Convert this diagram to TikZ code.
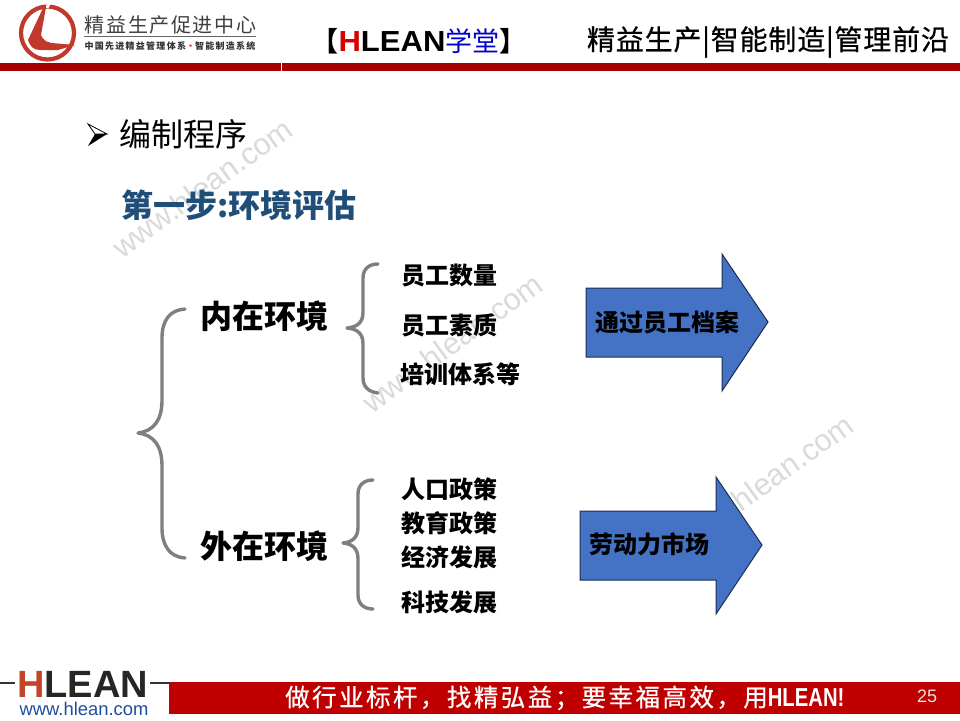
\documentclass[tikz,border=0pt]{standalone}
\usepackage{fontspec}
\setmainfont{Liberation Sans}
\newfontfamily\cjk{Noto Sans CJK SC}
\newfontfamily\cjkfb[FakeBold=0.6]{Noto Sans CJK SC}
\newfontfamily\latin{Liberation Sans}
\newcommand{\fs}[1]{\fontsize{#1}{#1}\selectfont}
\definecolor{barred}{HTML}{A80000}
\definecolor{footred}{HTML}{C00000}
\definecolor{braceg}{HTML}{7F7F7F}
\definecolor{wm}{HTML}{DADADA}
\definecolor{stepblue}{HTML}{1F4E79}
\definecolor{arrowblue}{HTML}{4472C4}
\definecolor{arrowline}{HTML}{1B2F55}
\definecolor{logored}{HTML}{C0392B}
\definecolor{footlogo}{HTML}{C0452A}
\definecolor{urlblue}{HTML}{1F4E9E}
\tikzset{
  x=1pt,y=-1pt,
  wmark/.style={text=wm,rotate=36,font=\latin\fs{30.5}},
  brace/.style={draw=braceg,line width=3.4pt,line cap=round,line join=round},
  bigtext/.style={font=\cjk\bfseries\fs{32},text=black},
  subtext/.style={font=\cjk\bfseries\fs{24},text=black},
  blockarrow/.style={draw=arrowline,line width=1pt,fill=arrowblue,line join=miter},
  inbar/.style={fill=barred,draw=none},
}
\begin{document}
\begin{tikzpicture}
\useasboundingbox (0,0) rectangle (960,720);
\fill[white] (0,0) rectangle (960,720);
% watermarks
\node[wmark] (wm1) at (202,188) {www.hlean.com};
\node[wmark] (wm2) at (452,343) {www.hlean.com};
\node[wmark] (wm3) at (763,484) {www.hlean.com};
% header
\fill[inbar] (0,63) rectangle (281,71);
\fill[inbar] (282,63) rectangle (960,71);
\draw[logored,line width=4.2pt] (47.5,33) circle (26.5);
\draw[white,line width=3pt] (50,1) -- (47,8);
\fill[logored] (44,6) -- (28,40) .. controls (30,46) and (33,50) .. (40,50) -- (58,50) -- (75,45) -- (52,43) .. controls (46,42) and (43,40) .. (41,35) -- (46,7) -- cycle;
\node[text=black!75,font=\cjk\fs{20},inner sep=0pt] (logotitle) at (170.5,25) {\addfontfeature{LetterSpace=8}精益生产促进中心};
\coordinate (ruleL) at (84,36);
\coordinate (ruleR) at (256,36);
\draw[black!60,line width=.7pt] (ruleL) -- (ruleR);
\node[text=black!80,font=\cjk\bfseries\fs{9},inner sep=0pt] (logosub) at (170,46) {\addfontfeature{LetterSpace=14}中国先进精益管理体系{\color{logored}•}智能制造系统};
\node[inner sep=0pt,font=\cjk\bfseries\fs{27}] (brand) at (419,41) {【{\latin\bfseries\fs{29}\addfontfeature{FakeStretch=1.07}\textcolor{red!85!black}{H}LEAN}{\mdseries\color{blue!80!black}学堂}】};
\node[inner sep=0pt,font=\cjkfb\fs{28},text=black] (slogan) at (768,42) {\addfontfeature{LetterSpace=3}精益生产|智能制造|管理前沿};
% heading
\fill[black] (88,146) -- (107,134) -- (95,134) -- cycle;
\draw[black,line width=.8pt] (88,124) -- (107,134) -- (95,134) -- cycle;
\node[inner sep=0pt,font=\cjk\fs{32},text=black] (proc) at (183,134) {编制程序};
\node[inner sep=0pt,font=\cjk\bfseries\fs{32},text=stepblue] (stepone) at (239,205) {第一步:环境评估};
% big labels
\node[bigtext,inner sep=0pt] (inner) at (264,316) {内在环境};
\node[bigtext,inner sep=0pt] (outer) at (264,546) {外在环境};
% sub labels
\node[subtext,inner sep=0pt] (a1) at (449,276) {员工数量};
\node[subtext,inner sep=0pt] (a2) at (449,325) {员工素质};
\node[subtext,inner sep=0pt] (a3) at (460.5,374) {培训体系等};
\node[subtext,inner sep=0pt] (b1) at (449,489) {人口政策};
\node[subtext,inner sep=0pt] (b2) at (449,523) {教育政策};
\node[subtext,inner sep=0pt] (b3) at (449,557) {经济发展};
\node[subtext,inner sep=0pt] (b4) at (449,602) {科技发展};
% braces
\draw[brace] (185,309) .. controls (170,310) and (162,320) .. (162,338) -- (162,400) .. controls (162,420) and (154,431) .. (138,433) .. controls (154,435) and (162,446) .. (162,466) -- (162,528) .. controls (162,546) and (170,557) .. (185,558);
\draw[brace] (378,264) .. controls (369,264) and (363,269) .. (363,278) -- (363,312) .. controls (363,322) and (358,327) .. (347,328) .. controls (358,329) and (363,334) .. (363,344) -- (363,378) .. controls (363,387) and (369,392) .. (378,393);
\draw[brace] (373,480) .. controls (364,480) and (358,485) .. (358,494) -- (358,527) .. controls (358,537) and (353,542) .. (343,543) .. controls (353,544) and (358,549) .. (358,559) -- (358,595) .. controls (358,604) and (364,609) .. (373,609);
% arrows
\draw[blockarrow] (586,288) -- (722,288) -- (722,254) -- (768,322) -- (722,391) -- (722,357) -- (586,357) -- cycle;
\draw[blockarrow] (580,511) -- (716,511) -- (716,477) -- (762,545) -- (716,614) -- (716,580) -- (580,580) -- cycle;
\node[subtext,inner sep=0pt] (arrowa) at (667,322) {通过员工档案};
\node[subtext,inner sep=0pt] (arrowb) at (649,544) {劳动力市场};
% footer
\fill[footred] (169,682) rectangle (960,714);
\coordinate (fl1) at (0,683);
\coordinate (fl2) at (15,683);
\coordinate (fr1) at (150,683);
\coordinate (fr2) at (169,683);
\draw[black!80,line width=1.2pt] (fl1) -- (fl2);
\draw[black!80,line width=1.2pt] (fr1) -- (fr2);
\node[inner sep=0pt,anchor=base west,font=\latin\bfseries\fs{38}] (hl) at (17,697) {\textcolor{footlogo}{H}\textcolor{black!85}{LEAN}};
\node[inner sep=0pt,text=urlblue,font=\latin\fs{18.4}] (url) at (84,709) {www.hlean.com};
\node[inner sep=0pt,text=white,font=\cjkfb\fs{24.5},anchor=west] (motto) at (285,698) {{\addfontfeature{LetterSpace=10}做行业标杆，找精弘益；要幸福高效，用}{\latin\bfseries\fs{26}\addfontfeature{FakeStretch=.78}HLEAN!}};
\node[inner sep=0pt,text=white!90!black,font=\latin\fs{18}] (page) at (927,696) {25};
\end{tikzpicture}
\end{document}
